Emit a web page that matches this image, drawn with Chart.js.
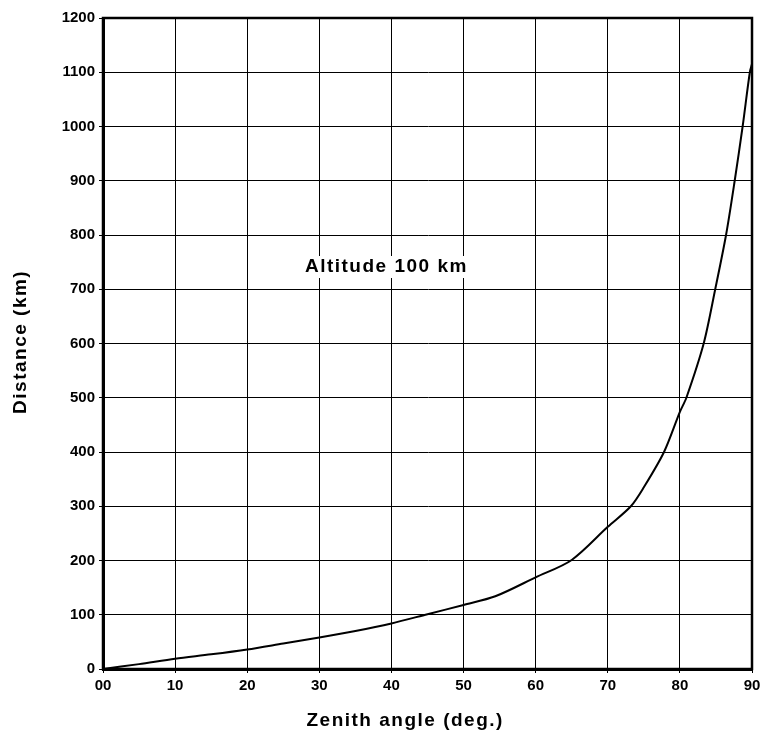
<!DOCTYPE html>
<html>
<head>
<meta charset="utf-8">
<script src="https://cdn.jsdelivr.net/npm/chart.js@4.4.0/dist/chart.umd.min.js"></script>
<style>
html,body{margin:0;padding:0;background:#fff;}
#wrap{width:762px;height:740px;position:relative;}
</style>
</head>
<body>
<div id="wrap"><canvas id="c" width="762" height="740"></canvas></div>
<script>
// Zenith angle (deg.)
const zenithAngles = [0, 5, 10, 15, 20, 25, 30, 35, 40, 45, 50, 54.4, 60, 65, 70, 73.2, 75, 77.8, 80, 80.9, 83.3, 84.9, 86.4, 87.6, 88.7, 89.7, 90];
// Distance (km)
const distances   = [0, 9, 19, 27, 36, 47, 58, 70, 84, 101, 118, 134, 169, 201, 262, 300, 335, 400, 474, 500, 600, 700, 800, 900, 1000, 1100, 1115];
const xTickLabels = ['00','10','20','30','40','50','60','70','80','90'];
const yTicks = [0,100,200,300,400,500,600,700,800,900,1000,1100,1200];
const xTitle = 'Zenith angle (deg.)';
const yTitle = 'Distance (km)';
const annotationText = 'Altitude 100 km';
const annotationPos = {x: 39.3, y: 741};

const points = zenithAngles.map((x, i) => ({x: x, y: distances[i]}));
const FONT = '"Liberation Sans", Arial, sans-serif';

const frame = {
  id: 'frame',
  afterDraw(chart) {
    const {ctx, chartArea: a, scales} = chart;
    ctx.save();
    ctx.strokeStyle = '#000';
    ctx.lineWidth = 2.5;
    ctx.strokeRect(a.left, a.top, a.right - a.left, a.bottom - a.top);

    ctx.fillStyle = '#000';
    ctx.textAlign = 'center';
    ctx.textBaseline = 'middle';
    // annotation
    ctx.font = 'bold 19px ' + FONT;
    ctx.letterSpacing = '1.5px';
    const px = scales.x.getPixelForValue(annotationPos.x);
    const py = scales.y.getPixelForValue(annotationPos.y);
    const w = ctx.measureText(annotationText).width;
    ctx.fillStyle = '#fff';
    ctx.fillRect(px - w/2 - 3, py - 11, w + 6, 22);
    ctx.fillStyle = '#000';
    ctx.fillText(annotationText, px, py);
    // x title
    ctx.fillText(xTitle, scales.x.getPixelForValue(41.9), a.bottom + 52);
    // y title
    ctx.save();
    ctx.translate(21, scales.y.getPixelForValue(603));
    ctx.rotate(-Math.PI / 2);
    ctx.fillText(yTitle, 0, 0);
    ctx.restore();
    ctx.restore();
  }
};

new Chart(document.getElementById('c'), {
  type: 'line',
  data: {
    datasets: [{
      data: points,
      borderColor: '#000',
      borderWidth: 2,
      pointRadius: 0,
      fill: false,
      tension: 0.3
    }]
  },
  options: {
    responsive: false,
    animation: false,
    events: [],
    layout: {padding: {left: 0, right: 10, top: 18, bottom: 0}},
    plugins: {legend: {display: false}, tooltip: {enabled: false}},
    scales: {
      x: {
        type: 'linear',
        min: 0, max: 90,
        afterFit(s) { s.height = 71; s.paddingLeft = 0; s.paddingRight = 0; },
        afterBuildTicks(s) { s.ticks = xTickLabels.map((t, i) => ({value: i * 10})); },
        ticks: {
          color: '#000',
          padding: 4,
          maxRotation: 0,
          font: {family: FONT, size: 15, weight: 'bold'},
          callback: (v, i) => xTickLabels[i]
        },
        grid: {color: '#000', lineWidth: 1, drawTicks: true, tickLength: 4, tickColor: '#000'},
        border: {color: '#000', width: 3}
      },
      y: {
        type: 'linear',
        min: 0, max: 1200,
        afterFit(s) { s.width = 103; s.paddingTop = 0; s.paddingBottom = 0; },
        afterBuildTicks(s) { s.ticks = yTicks.map(v => ({value: v})); },
        ticks: {
          color: '#000',
          padding: 4,
          font: {family: FONT, size: 15, weight: 'bold'},
          callback: (v) => String(v)
        },
        grid: {color: '#000', lineWidth: 1, drawTicks: true, tickLength: 4, tickColor: '#000'},
        border: {color: '#000', width: 3}
      }
    }
  },
  plugins: [frame]
});
</script>
</body>
</html>
